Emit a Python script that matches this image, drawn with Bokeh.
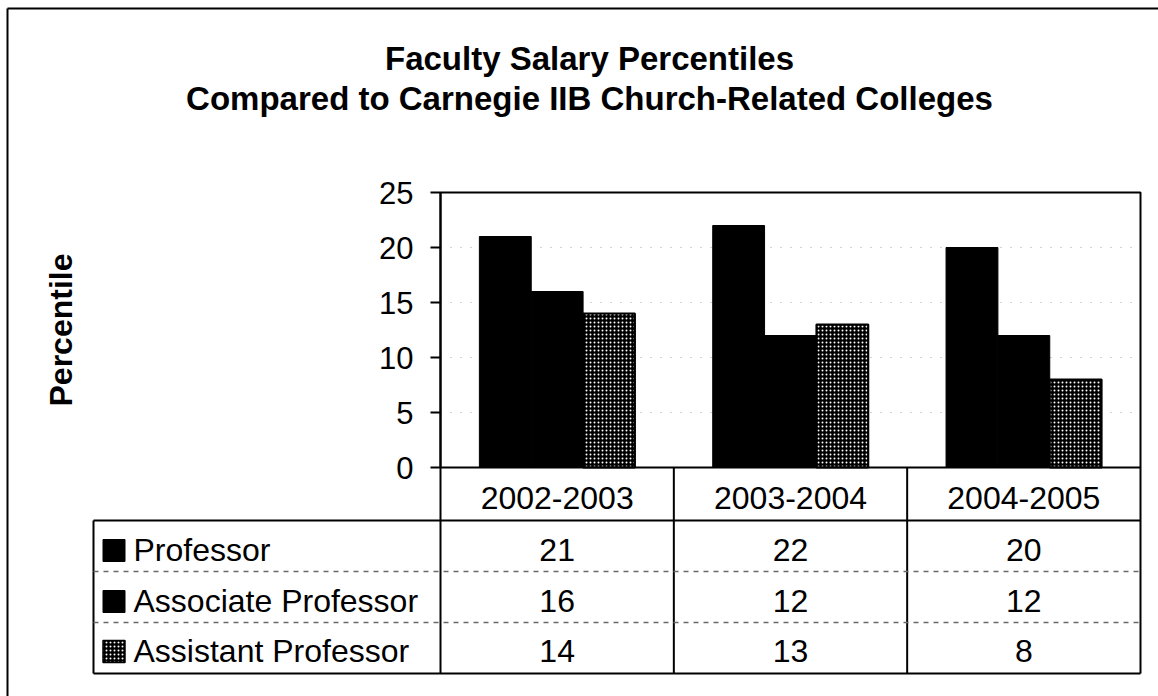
from bokeh.plotting import figure
from bokeh.models import Range1d, FixedTicker, LinearAxis, Label
from bokeh.core.properties import value
from bokeh.embed import file_html
from bokeh.resources import INLINE

# ---------------- data ----------------
years = ["2002-2003", "2003-2004", "2004-2005"]
series = ["Professor", "Associate Professor", "Assistant Professor"]
professor = [21, 22, 20]
associate = [16, 12, 12]
assistant = [14, 13, 8]
y_ticks = [0, 5, 10, 15, 20, 25]
title_lines = ["Faculty Salary Percentiles",
               "Compared to Carnegie IIB Church-Related Colleges"]
y_label = "Percentile"

# ---------------- layout helpers (page pixels -> data units) ----------------
FONT = "Liberation Sans"
W, H = 1158, 696                 # figure fills the page
X0, UX = 440, 700 / 3            # page x of category 0, px per category
Y0, UY = 467, 11                 # page y of value 0, px per value unit
BAR_W = 1 / 4.5                  # Excel gap width 150 %
TXT = 32                         # table text size (px)
TFIX = 0.36                      # baseline correction (em)


def dx(page_x):
    return (page_x - X0) / UX


def dy(page_y):
    return (Y0 - page_y) / UY


n = len(years)
YMAX = y_ticks[-1]

p = figure(width=W, height=H, x_range=Range1d(dx(0), dx(W)),
           y_range=Range1d(dy(H), dy(0)),
           output_backend="svg", toolbar_location=None,
           x_axis_location=None, y_axis_location=None, min_border=0,
           outline_line_color=None)
p.xgrid.visible = False
p.ygrid.visible = False

# outer frame (left and top edges)
p.segment(x0=[dx(7), dx(7)], y0=[dy(8), dy(8)], x1=[dx(7), dx(W)], y1=[dy(H), dy(8)],
          line_color="black", line_width=2)

# ---------------- title ----------------
for txt, base in zip(title_lines, [70, 110]):
    p.add_layout(Label(x=dx(589), y=dy(base - TFIX * 33), text=txt, text_align="center",
                       text_baseline="alphabetic", text_font=FONT,
                       text_font_style="bold", text_font_size="33px",
                       text_color="black"))

# ---------------- chart ----------------
cx = [i + 0.5 for i in range(n)]

# faint dotted gridlines
inner = [t for t in y_ticks if 0 < t < YMAX]
p.segment(x0=[0] * len(inner), x1=[n] * len(inner), y0=inner, y1=inner,
          line_color="#a8a8a8", line_width=1, line_dash="1 9")

p.vbar(x=[c - BAR_W for c in cx], top=professor, width=BAR_W,
       fill_color="black", line_color="black", line_width=1)
p.vbar(x=cx, top=associate, width=BAR_W,
       fill_color="black", line_color="black", line_width=1)
p.vbar(x=[c + BAR_W for c in cx], top=assistant, width=BAR_W,
       fill_color="black", hatch_pattern="dot", hatch_color="white",
       hatch_scale=4, hatch_weight=1, line_color="black", line_width=2)

# plot-area box
p.quad(left=[0], right=[n], bottom=[0], top=[YMAX], fill_color=None,
       line_color="black", line_width=2)

ax = LinearAxis(fixed_location=0, bounds=(0, YMAX), ticker=FixedTicker(ticks=y_ticks))
ax.axis_line_width = 2
ax.axis_line_color = "black"
ax.major_tick_line_width = 2
ax.major_tick_out = 10
ax.major_tick_in = 0
ax.minor_tick_out = 0
ax.minor_tick_in = 0
ax.major_label_text_font = FONT
ax.major_label_text_font_size = "31px"
ax.major_label_text_color = "black"
ax.major_label_standoff = 17
ax.axis_label = y_label
ax.axis_label_text_font = FONT
ax.axis_label_text_font_style = "bold"
ax.axis_label_text_font_size = "32px"
ax.axis_label_text_color = "black"
ax.axis_label_standoff = 297
p.add_layout(ax, "left")

# ---------------- data table ----------------
t_left = dx(93)
row_lines = [dy(520), dy(571), dy(622), dy(673)]
t_bottom = row_lines[-1]

# solid borders
p.segment(x0=[t_left, t_left], x1=[n, n], y0=[row_lines[0], t_bottom],
          y1=[row_lines[0], t_bottom], line_color="black", line_width=2)
p.segment(x0=[t_left] + list(range(n + 1)), x1=[t_left] + list(range(n + 1)),
          y0=[row_lines[0]] + [0] * (n + 1), y1=[t_bottom] * (n + 2),
          line_color="black", line_width=2)
# faint row separators
p.segment(x0=[t_left, t_left], x1=[n, n], y0=row_lines[1:3], y1=row_lines[1:3],
          line_color="#6a6a6a", line_width=1.5, line_dash="5 5")

txt_kw = dict(text_baseline="alphabetic", text_font=value(FONT),
              text_font_size=f"{TXT}px", text_color="black")
fix = TFIX * TXT
p.text(x=cx, y=[dy(509 - fix)] * n, text=years, text_align="center", **txt_kw)
row_base = [dy(561 - fix), dy(612 - fix), dy(662 - fix)]
for base, vals in zip(row_base, [professor, associate, assistant]):
    p.text(x=cx, y=[base] * n, text=[str(v) for v in vals], text_align="center", **txt_kw)
p.text(x=[dx(133)] * len(series), y=row_base, text=series, text_align="left", **txt_kw)

sw_x = dx(113.5)
sw_y = [dy(550), dy(601), dy(651)]
p.scatter(x=[sw_x, sw_x], y=sw_y[:2], marker="square", size=22,
          fill_color="black", line_color="black")
p.scatter(x=[sw_x], y=sw_y[2:], marker="square", size=22,
          fill_color="black", hatch_pattern="dot", hatch_color="white",
          hatch_scale=4, hatch_weight=1, line_color="black", line_width=1.5)

open("out.html", "w").write(file_html(p, INLINE))
